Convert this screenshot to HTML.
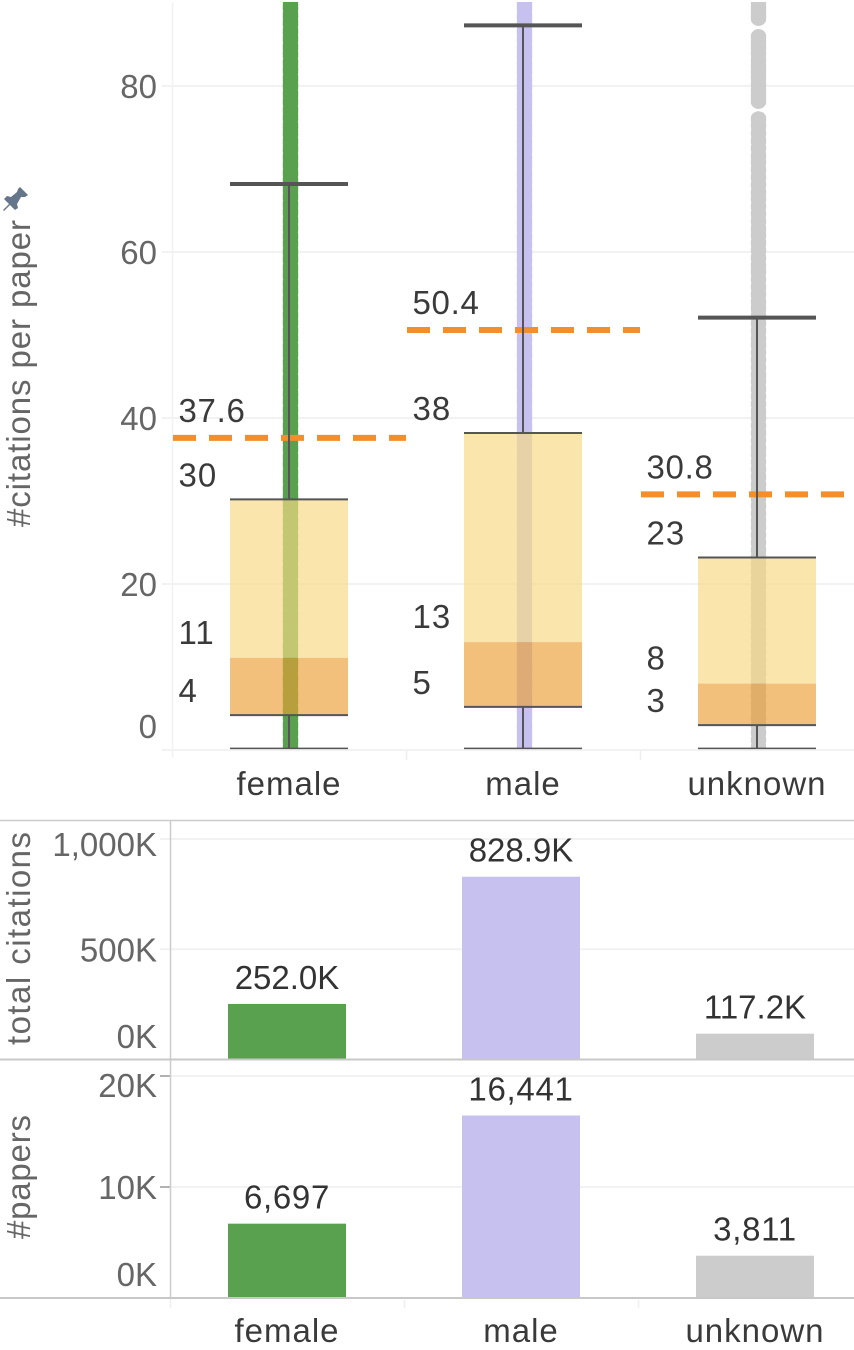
<!DOCTYPE html>
<html lang="en">
<head>
<meta charset="utf-8">
<title>Citations by gender</title>
<style>
html,body{margin:0;padding:0;background:#fff;width:854px;height:1350px;overflow:hidden}
svg{display:block}
text{font-family:"Liberation Sans",sans-serif;font-size:33px}
.spaced{letter-spacing:1px}
.quart{letter-spacing:.7px}
</style>
</head>
<body>
<svg id="chart" xmlns="http://www.w3.org/2000/svg" width="854" height="1350" viewBox="0 0 854 1350">
  <defs id="clipdefs">
    <clipPath id="pane"><rect x="172" y="2" width="682" height="746"/></clipPath>
  </defs>
  <g id="grid"></g>
  <g id="dots" clip-path="url(#pane)"></g>
  <g id="boxes"></g>
  <g id="means"></g>
  <g id="whiskers"></g>
  <g id="bars"></g>
  <g id="labels"></g>
  <text transform="translate(30,527) rotate(-90)" fill="#666" textLength="307" lengthAdjust="spacing">#citations per paper</text>
  <path fill="#66768a" d="M20 187 L28 195 L25 197 L21 197 L17 204 L18 208 L15 210 L10 205 L4 211 L3 210 L9 204 L4 199 L7 196 L11 197 L17 192 L18 189 Z"/>
  <text transform="translate(30,1045) rotate(-90)" fill="#666" textLength="213" lengthAdjust="spacing">total citations</text>
  <text transform="translate(30,1239) rotate(-90)" fill="#666" textLength="124" lengthAdjust="spacing">#papers</text>
</svg>
<script>
const categories = ['female', 'male', 'unknown'];
const whiskerHigh = [68.2, 87.3, 52.1];
const q3Values = [30.2, 38.2, 23.2];
const medianValues = [11.1, 13.0, 8.0];
const q1Values = [4.2, 5.2, 3.0];
const whiskerLow = [0.2, 0.2, 0.2];
const meanValues = [37.6, 50.6, 30.8];
const q3Labels = ['30', '38', '23'];
const medianLabels = ['11', '13', '8'];
const q1Labels = ['4', '5', '3'];
const meanLabels = ['37.6', '50.4', '30.8'];
const totalCitationsK = [252.0, 828.9, 117.2];
const paperCounts = [6697, 16441, 3811];
const mainTicks = [0, 20, 40, 60, 80];
const citationTicks = [0, 500, 1000];
const paperTicks = [0, 10000, 20000];
const femalePoints = [90.4,89.5,88.5,87.6,86.6,85.7,84.7,83.8,82.8,81.9,80.9,80.0,79.0,78.1,77.1,76.2,75.2,74.3,73.3,72.4,71.4,70.5,69.5,68.6,67.6,66.7,65.7,64.8,63.8,62.9,61.9,61.0,60.0,59.1,58.1,57.2,56.2,55.3,54.3,53.4,52.4,51.5,50.5,49.6,48.6,47.7,46.7,45.8,44.8,43.9,42.9,42.0,41.0,40.1,39.1,38.2,37.2,36.3,35.3,34.4,33.4,32.5,31.5,30.6,29.6,28.7,27.7,26.8,25.8,24.9,23.9,23.0,22.0,21.1,20.1,19.2,18.2,17.3,16.3,15.4,14.4,13.5,12.5,11.6,10.6,9.7,8.7,7.8,6.8,5.9,4.9,4.0,3.0,2.1,1.1,0.2];
const malePoints = [90.3,89.4,88.4,87.5,86.5,85.6,84.6,83.7,82.7,81.8,80.8,79.9,78.9,78.0,77.0,76.1,75.1,74.2,73.2,72.3,71.3,70.4,69.4,68.5,67.5,66.6,65.6,64.7,63.7,62.8,61.8,60.9,59.9,59.0,58.0,57.1,56.1,55.2,54.2,53.3,52.3,51.4,50.4,49.5,48.5,47.6,46.6,45.7,44.7,43.8,42.8,41.9,40.9,40.0,39.0,38.1,37.1,36.2,35.2,34.3,33.3,32.4,31.4,30.5,29.5,28.6,27.6,26.7,25.7,24.8,23.8,22.9,21.9,21.0,20.0,19.1,18.1,17.2,16.2,15.3,14.3,13.4,12.4,11.5,10.5,9.6,8.6,7.7,6.7,5.8,4.8,3.9,2.9,2.0,1.1,0.2];
const unknownPoints = [90.1,89.4,88.8,88.2,85.9,85.3,84.6,83.9,83.1,82.4,81.7,81.0,80.2,79.5,78.8,78.2,76.0,75.2,74.3,73.4,72.5,71.6,70.8,69.9,69.0,68.1,67.2,66.4,65.5,64.6,63.7,62.8,62.0,61.1,60.2,59.3,58.4,57.6,56.7,55.8,54.9,54.0,53.2,52.3,51.4,50.5,49.6,48.8,47.9,47.0,46.1,45.2,44.4,43.5,42.6,41.7,40.8,40.0,39.1,38.2,37.3,36.4,35.6,34.7,33.8,32.9,32.0,31.2,30.3,29.4,28.5,27.6,26.8,25.9,25.0,24.1,23.2,22.4,21.5,20.6,19.7,18.8,18.0,17.1,16.2,15.3,14.4,13.6,12.7,11.8,10.9,10.0,9.2,8.3,7.4,6.5,5.6,4.8,3.9,3.0,2.1,1.2,0.3];
const pointSeries = [femalePoints, malePoints, unknownPoints];
const seriesColors = ['#59a14f', '#c6c1ef', '#cccccc'];

const NS = 'http://www.w3.org/2000/svg';
const yMain = v => 750 - v * 8.3;
const yCit = v => 1059.5 - v * 0.2205;
const yPap = v => 1298 - v * 0.0111;
const bandMain = i => 172 + i * 234;
const bandLow = i => 170 + i * 234;
const clamp = (v, a, b) => Math.max(a, Math.min(b, v));
const kFormat = v => (v / 1000).toLocaleString('en-US') + 'K';

function mk(parent, tag, attrs, txt) {
  const el = document.createElementNS(NS, tag);
  for (const k in attrs) el.setAttribute(k, attrs[k]);
  if (txt !== undefined) el.textContent = txt;
  (typeof parent === 'string' ? document.getElementById(parent) : parent).appendChild(el);
  return el;
}
function hline(parent, x1, x2, y, color, w, dash) {
  const a = { x1: x1, x2: x2, y1: y, y2: y, stroke: color, 'stroke-width': w };
  if (dash) a['stroke-dasharray'] = dash;
  return mk(parent, 'line', a);
}
function vline(parent, x, y1, y2, color, w) {
  return mk(parent, 'line', { x1: x, x2: x, y1: y1, y2: y2, stroke: color, 'stroke-width': w });
}
function label(x, y, txt, color, anchor, cls) {
  const a = { x: x, y: y, fill: color, 'text-anchor': anchor };
  if (cls) a['class'] = cls;
  return mk('labels', 'text', a, txt);
}

/* structure */
let e;
e = vline('grid', 172.5, 2, 758, '#f1f1f1', 1.5);


[1, 2].forEach(i => {
  const t = vline('grid', bandMain(i) + 0.5, 750, 760, '#eeeeee', 1.5);
  
  
  const b = vline('grid', bandLow(i) + 0.5, 1300, 1308, '#eeeeee', 1.5);
  
  
});
mainTicks.forEach(v => {
  const g = hline('grid', 162, 854, yMain(v), '#f2f2f2', 2);
  
  
  const t = label(157, Math.min(yMain(v) + 12, 738), String(v), '#666', 'end');
  
  
});
citationTicks.forEach(v => {
  const g = hline('grid', 160, 854, yCit(v), '#f2f2f2', 2);
  
  
  const t = label(157, clamp(yCit(v) + 12, 856, 1048), v.toLocaleString('en-US') + 'K', '#666', 'end');
  
  
});
paperTicks.forEach(v => {
  const g = hline('grid', 171, 854, yPap(v), '#f2f2f2', 2);
  
  
  if (v > 0) {
    const k = hline('grid', 160, 170, yPap(v), '#999999', 1.5);
    
    
  }
  const t = label(157, clamp(yPap(v) + 12, 1097, 1286), kFormat(v), '#666', 'end');
  
  
});
e = hline('grid', 0, 854, 820.5, '#cccccc', 1.5);


e = vline('grid', 170.5, 820, 1298, '#cccccc', 1.5);


e = vline('grid', 170.5, 1298, 1308, '#eeeeee', 1.5);



/* main pane */
categories.forEach((cat, i) => {
  const band = bandMain(i);
  const boxX = band + 58;
  const center = band + 117;

  const clip = mk('clipdefs', 'clipPath', { id: 'col-' + i });
  mk(clip, 'rect', { x: center + 1.5 - 7.7, y: 0, width: 15.4, height: 760 });
  const column = mk('dots', 'g', { 'clip-path': 'url(#col-' + i + ')' });
  
  
  pointSeries[i].forEach(v => {
    const d = mk(column, 'circle', { cx: center + 1.5, cy: yMain(v), r: i === 2 ? 8 : 8.4, fill: seriesColors[i] });
    
    
  });

  const upper = mk('boxes', 'rect', { x: boxX, y: yMain(q3Values[i]), width: 118, height: yMain(medianValues[i]) - yMain(q3Values[i]), fill: '#f8da84', 'fill-opacity': 0.675 });
  
  
  const lower = mk('boxes', 'rect', { x: boxX, y: yMain(medianValues[i]), width: 118, height: yMain(q1Values[i]) - yMain(medianValues[i]), fill: '#eb9e34', 'fill-opacity': 0.65 });
  
  

  const mean = hline('means', band + 1, band + 234, yMain(meanValues[i]), '#f28e2b', 6, '23 13');
  
  

  const wu = vline('whiskers', center, yMain(whiskerHigh[i]), yMain(q3Values[i]), '#555555', 2);
  
  
  const wl = vline('whiskers', center, yMain(q1Values[i]), yMain(whiskerLow[i]), '#555555', 2);
  
  
  const capHigh = hline('whiskers', boxX, boxX + 118, yMain(whiskerHigh[i]), '#555555', 4);
  
  
  const q3Line = hline('whiskers', boxX, boxX + 118, yMain(q3Values[i]), '#555555', 2);
  
  
  const q1Line = hline('whiskers', boxX, boxX + 118, yMain(q1Values[i]), '#555555', 2);
  
  
  const capLow = hline('whiskers', boxX, boxX + 118, yMain(whiskerLow[i]), '#555555', 1.5);
  
  

  const lx = band + 6.5;
  const l1 = label(lx, yMain(meanValues[i]) - 16, meanLabels[i], '#3a3a3a', 'start', 'quart');
  
  
  const l2 = label(lx, yMain(q3Values[i]) - 13, q3Labels[i], '#3a3a3a', 'start', 'spaced');
  
  
  const l3 = label(lx, yMain(medianValues[i]) - 14, medianLabels[i], '#3a3a3a', 'start', 'spaced');
  
  
  const l4 = label(lx, yMain(q1Values[i]) - 13, q1Labels[i], '#3a3a3a', 'start', 'spaced');
  
  
  const l5 = label(center, 795, cat, '#3a3a3a', 'middle', 'spaced');
  
  

  /* lower panels */
  const barX = bandLow(i) + 58;
  const barC = bandLow(i) + 117;
  const b1 = mk('bars', 'rect', { x: barX, y: yCit(totalCitationsK[i]), width: 118, height: yCit(0) - yCit(totalCitationsK[i]), fill: seriesColors[i] });
  
  
  const v1 = label(barC, yCit(totalCitationsK[i]) - 15, totalCitationsK[i].toFixed(1) + 'K', '#333', 'middle');
  
  
  const b2 = mk('bars', 'rect', { x: barX, y: yPap(paperCounts[i]), width: 118, height: yPap(0) - yPap(paperCounts[i]), fill: seriesColors[i] });
  
  
  const v2 = label(barC, yPap(paperCounts[i]) - 15, paperCounts[i].toLocaleString('en-US'), '#333', 'middle', 'quart');
  
  
  const l6 = label(barC, 1342, cat, '#3a3a3a', 'middle', 'spaced');
  
  
});

/* panel separators on top of bars */
e = hline('bars', 0, 854, 1059.5, '#c8c8c8', 2);


e = hline('bars', 0, 854, 1298, '#c8c8c8', 2);


</script>
</body>
</html>
